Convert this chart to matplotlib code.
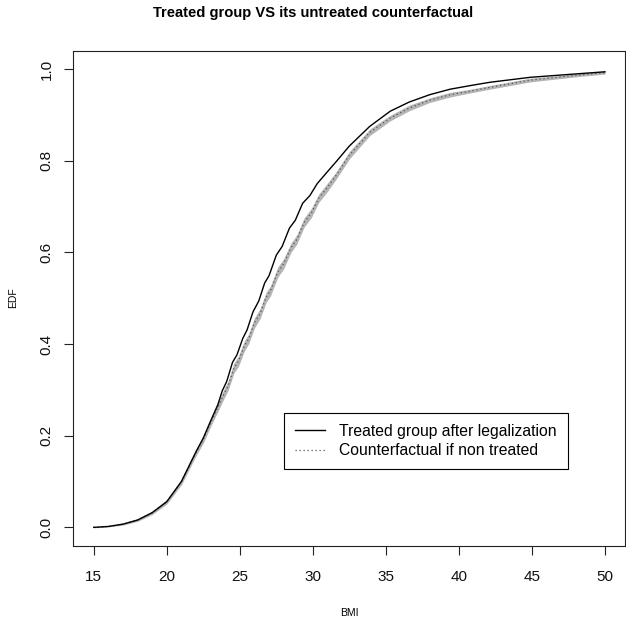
import matplotlib
matplotlib.use("Agg")
import numpy as np
import matplotlib.pyplot as plt
from matplotlib.lines import Line2D

# Empirical distribution of BMI for the treated group after legalization
bmi_treated = [15, 16, 17, 18, 19, 20, 21, 22, 22.5, 23, 23.5, 23.8, 24.1, 24.5, 24.8,
               25.2, 25.5, 25.9, 26.3, 26.7, 27.0, 27.5, 27.9, 28.4, 28.8, 29.3, 29.8,
               30.3, 31.0, 31.6, 32.5, 33.9, 35.3, 36.6, 38.0, 39.4, 40.8, 42.1, 44.9,
               48.3, 50]
edf_treated = [0.000, 0.002, 0.007, 0.016, 0.032, 0.056, 0.100, 0.165, 0.195, 0.232,
               0.268, 0.298, 0.318, 0.360, 0.376, 0.412, 0.431, 0.470, 0.494, 0.533,
               0.549, 0.594, 0.613, 0.653, 0.670, 0.707, 0.724, 0.750, 0.776, 0.798,
               0.832, 0.875, 0.908, 0.928, 0.944, 0.956, 0.964, 0.971, 0.982, 0.990,
               0.994]

# Counterfactual distribution if non treated, with its pointwise band
bmi_cf = [15, 16, 17, 18, 19, 20, 21, 22, 22.5, 23, 23.5, 23.9, 24.2, 24.6, 24.9, 25.3,
          25.6, 26.0, 26.4, 26.8, 27.1, 27.6, 28.0, 28.5, 28.9, 29.4, 29.9, 30.4, 31.0,
          31.6, 32.5, 33.9, 35.3, 36.6, 38.0, 39.4, 40.8, 42.1, 44.9, 48.3, 50]
edf_cf = [0.000, 0.002, 0.007, 0.016, 0.032, 0.056, 0.099, 0.163, 0.192, 0.228, 0.262,
          0.290, 0.309, 0.348, 0.362, 0.395, 0.411, 0.446, 0.467, 0.502, 0.516, 0.557,
          0.575, 0.610, 0.628, 0.665, 0.686, 0.718, 0.742, 0.768, 0.812, 0.862, 0.893,
          0.915, 0.932, 0.944, 0.952, 0.960, 0.976, 0.987, 0.992]
cf_halfwidth = [0.001, 0.001, 0.002, 0.003, 0.004, 0.005, 0.006, 0.007, 0.008, 0.008,
                0.009, 0.010, 0.010, 0.011, 0.011, 0.011, 0.011, 0.011, 0.011, 0.011,
                0.011, 0.011, 0.011, 0.010, 0.010, 0.010, 0.010, 0.009, 0.009, 0.008,
                0.008, 0.007, 0.006, 0.006, 0.005, 0.005, 0.004, 0.004, 0.004, 0.003,
                0.003]

x_ticks = [15, 20, 25, 30, 35, 40, 45, 50]
y_ticks = [0.0, 0.2, 0.4, 0.6, 0.8, 1.0]
y_ticklabels = ["0.0", "0.2", "0.4", "0.6", "0.8", "1.0"]
legend_labels = ["Treated group after legalization", "Counterfactual if non treated"]

plt.rcParams["font.family"] = ["Liberation Sans", "DejaVu Sans"]

W, H = 626, 621
fig = plt.figure(figsize=(W / 100, H / 100), dpi=100)
ax = fig.add_axes([73.3 / W, (H - 545.7) / H, (625.4 - 73.3) / W, (545.7 - 50.7) / H])

dotted = (0, (1, 2.2))
cf = np.asarray(edf_cf)
hw = np.asarray(cf_halfwidth)
ax.fill_between(bmi_cf, cf - hw, cf + hw, color="#b4b4b4", linewidth=0, zorder=1)
ax.plot(bmi_cf, edf_cf, color="#555555", linewidth=0.9, linestyle=dotted, zorder=2)
ax.plot(bmi_treated, edf_treated, color="black", linewidth=1.0, zorder=3)

ax.set_xlim(13.6, 51.4)
ax.set_ylim(-0.04, 1.04)
ax.set_xticks(x_ticks)
ax.set_xticklabels([str(v) for v in x_ticks])
ax.set_yticks(y_ticks)
ax.set_yticklabels(y_ticklabels, rotation=90, va="center")
ax.tick_params(axis="both", direction="out", length=6.5, width=0.8, labelsize=11,
               color="#222222", labelcolor="#111111")
ax.tick_params(axis="x", pad=11)
ax.tick_params(axis="y", pad=7.5)
for s in ax.spines.values():
    s.set_linewidth(0.8)
    s.set_color("#222222")

fig.text(349 / W, 1 - 613 / H, "BMI", ha="center", va="center", fontsize=7.5)
fig.text(13 / W, 1 - 298 / H, "EDF", ha="center", va="center", rotation=90, fontsize=7.5)
fig.text(0.5, 1 - 13 / H, "Treated group VS its untreated counterfactual",
         ha="center", va="center", fontsize=10.6, fontweight="bold")

handles = [Line2D([], [], color="black", linewidth=1.0),
           Line2D([], [], color="#555555", linewidth=0.9, linestyle=dotted)]
leg = ax.legend(handles, legend_labels,
                loc="upper left", bbox_to_anchor=((284 - 73.3) / 552.1, (545.7 - 413) / 495),
                fontsize=11.3, frameon=True, fancybox=False, framealpha=1,
                edgecolor="black", handlelength=1.9, handletextpad=0.9,
                borderpad=0.7, labelspacing=0.28, borderaxespad=0)
leg.get_frame().set_linewidth(0.8)

fig.savefig("out.png", dpi=100)
